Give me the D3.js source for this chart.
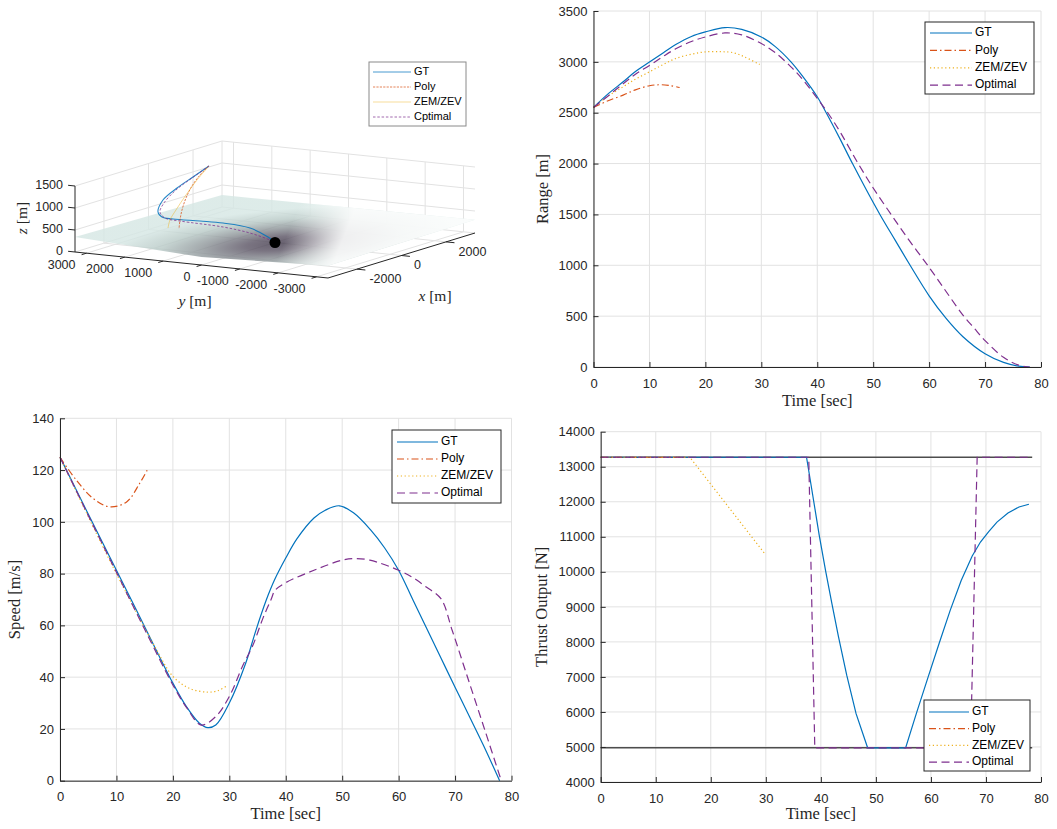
<!DOCTYPE html>
<html><head><meta charset="utf-8">
<script src="https://cdn.jsdelivr.net/npm/d3@7"></script>
<style>body{margin:0;background:#fff}svg{display:block}</style>
</head><body>
<svg id="c" width="1057" height="829"></svg>
<script>
// ---------------- DATA ----------------
const seriesNames = ["GT", "Poly", "ZEM/ZEV", "Optimal"];
const legend3DNames = ["GT", "Poly", "ZEM/ZEV", "Cptimal"];
const timeTicks = [0, 10, 20, 30, 40, 50, 60, 70, 80];
const rangeTicks = [0, 500, 1000, 1500, 2000, 2500, 3000, 3500];
const speedTicks = [0, 20, 40, 60, 80, 100, 120, 140];
const thrustTicks = [4000, 5000, 6000, 7000, 8000, 9000, 10000, 11000, 12000, 13000, 14000];
const xTicks3D = [-2000, 0, 2000];
const yTicks3D = [3000, 2000, 1000, 0, -1000, -2000, -3000];
const zTicks3D = [0, 500, 1000, 1500];

// Range [m] vs time [s]
const rangeGT = [[0,2552],[2.5,2680],[5.3,2804],[7.5,2905],[10,2998],[12.5,3090],[14.7,3170],[17.5,3250],[20,3294],[23.5,3337],[26.5,3320],[30,3245],[32.5,3150],[35.3,3000],[37.5,2850],[40,2657],[41.6,2500],[44,2250],[46.3,2000],[48.7,1750],[51.2,1500],[54,1240],[56.6,1000],[60,700],[63,480],[66,300],[70,130],[73.3,45],[76,8],[78,0]];
const rangePoly = [[0,2552],[2.5,2615],[5.3,2673],[7.5,2725],[10,2765],[11.8,2775],[13.5,2768],[15.4,2748]];
const rangeZEM = [[0,2552],[2.5,2660],[5.3,2755],[7.5,2830],[10,2902],[12.5,2975],[14.7,3033],[17.5,3075],[20,3098],[22.9,3100],[25,3090],[27,3049],[29.7,2974]];
const rangeOpt = [[0,2552],[2.5,2660],[5.3,2785],[7.5,2878],[10,2965],[12.5,3055],[14.7,3128],[17.5,3200],[20,3245],[23.5,3284],[26.5,3265],[30,3180],[32.5,3090],[35.3,2951],[37.5,2820],[40,2641],[42,2490],[44.1,2310],[47.1,2020],[50,1760],[53.2,1500],[56.5,1240],[60,980],[63,745],[65.9,520],[68,385],[70,260],[73.3,95],[76,18],[78,0]];

// Speed [m/s] vs time [s]
const speedGT = [[0,125],[5,103],[10,81.3],[15,59.5],[20,37.7],[22.4,28.6],[24.7,22.2],[26.2,20.5],[27.6,21.5],[30,30],[32.9,45.4],[34.7,58],[36.5,69.5],[38,77.5],[40,86],[42,93.5],[45,101.5],[47,104.5],[49.5,106.2],[52,103.5],[55,97],[57.5,90],[60,81.3],[62.5,70],[65,58.7],[67.5,47.4],[70,36.1],[72.5,25],[75,13.8],[77.9,0]];
const speedPoly = [[0,124.9],[2.9,116.1],[5.9,109],[8.8,105.8],[11.8,107.7],[14.1,114.8],[15.6,120.6]];
const speedZEM = [[0,125],[5,102],[10,80],[15,59],[17.1,50.6],[20,40.3],[22.9,35.7],[26.2,34.2],[28,34.8],[29.4,36.4]];
const speedOpt = [[0,125],[5,102.5],[10,80.5],[15,58.5],[20,37],[22.5,28],[25,21.5],[27.6,24.8],[30,32.5],[32.5,45],[34.1,51.9],[36,63],[37.4,70],[38.1,73.5],[40,76.5],[45,81.3],[50,85.2],[52.1,85.8],[54.9,85.2],[60,81.3],[62.5,78.5],[64.9,74.8],[67.5,70.3],[69.5,58],[72.4,38.7],[75.3,19.4],[78.1,0.6]];

// Thrust output [N] vs time [s]
const thrustLimits = [13270, 4976];
const thrustLimitSpan = [0, 78.4];
const thrustGT = [[0,13270],[37.4,13270],[38.2,12500],[39.7,11050],[40.9,10000],[42,9100],[43.2,8150],[44.7,7050],[46.4,5950],[48.5,4976],[55.4,4976],[57.4,5980],[59.5,7000],[61.5,7960],[63.5,8900],[65.5,9750],[67.5,10450],[69,10850],[70.5,11150],[72,11420],[74,11680],[76,11850],[77.8,11930]];
const thrustPoly = [[0,13270],[15.5,13270]];
const thrustZEM = [[0,13270],[16.2,13270],[29.85,10509]];
const thrustOpt = [[0,13270],[37.8,13270],[38.9,4976],[67.2,4976],[68.4,13270],[78,13270]];

// 3D trajectories [x, y, z] in metres
const traj3DGT = [[507,2016,1480],[-14,2131,1300],[-436,2303,1100],[-946,2373,900],[-1353,2266,700],[-1374,2150,600],[-1085,2031,520],[-517,1656,420],[-93,1303,340],[245,795,220],[86,232,90],[0,0,0]];
const traj3DPoly = [[507,2016,1480],[43,1981,1350],[-530,1857,1200],[-1092,1687,1030],[-1587,1504,850],[-1742,1466,650],[-1775,1473,450]];
const traj3DZEM = [[507,2016,1480],[-57,2002,1250],[-620,1962,1000],[-1315,1819,780],[-1712,1745,620],[-2031,1611,500]];
const traj3DOpt = [[507,2016,1480],[-135,2087,1300],[-667,2195,1100],[-1264,2162,900],[-1331,2227,700],[-1450,2027,600],[-1226,1766,520],[-719,939,380],[-403,418,240],[-221,2,90],[0,0,0]];
const target3D = [0, 0, 0];
const terrainOutline = [[-3300,3300,340],[3300,3300,270],[3300,-3300,300],[-3300,-3300,280],[-3300,0,180]];

// ---------------- STYLE ----------------
const colors = ["#0072BD", "#D95319", "#EDB120", "#7E2F8E"];
const dashes = [null, "7,3,1.5,3", "1.2,2.6", "8,4.5"];
const dashes3D = [null, "2.2,1.2", null, "2.5,1.8"];
const gridColor = "#e2e2e2";
const axisColor = "#262626";
const sans = "'Liberation Sans', Arial, Helvetica, sans-serif";
const serif = "'Liberation Serif', 'Times New Roman', serif";

const svg = d3.select("#c");

function drawPanel(cfg) {
  const x = d3.scaleLinear().domain([0, 80]).range([cfg.x0, cfg.x1]);
  const y = d3.scaleLinear().domain(cfg.yDomain).range([cfg.yb, cfg.yt]);
  const g = svg.append("g");
  g.append("g").selectAll("line").data(timeTicks).join("line")
    .attr("x1", d => x(d)).attr("x2", d => x(d))
    .attr("y1", cfg.yb).attr("y2", cfg.yt)
    .attr("stroke", gridColor).attr("stroke-width", 1);
  g.append("g").selectAll("line").data(cfg.yTicks).join("line")
    .attr("x1", cfg.x0).attr("x2", cfg.x1)
    .attr("y1", d => y(d)).attr("y2", d => y(d))
    .attr("stroke", gridColor).attr("stroke-width", 1);
  if (cfg.limits) {
    g.append("g").selectAll("line").data(cfg.limits).join("line")
      .attr("x1", x(cfg.limitSpan[0])).attr("x2", x(cfg.limitSpan[1]))
      .attr("y1", d => y(d)).attr("y2", d => y(d))
      .attr("stroke", "#4d4d4d").attr("stroke-width", 1.6);
  }
  cfg.series.forEach((s, i) => {
    const curve = cfg.curves ? cfg.curves[i] : d3.curveCatmullRom.alpha(0.5);
    const line = d3.line().x(d => x(d[0])).y(d => y(d[1])).curve(curve);
    g.append("path").datum(s).attr("d", line)
      .attr("fill", "none").attr("stroke", colors[i]).attr("stroke-width", 1.2)
      .attr("stroke-dasharray", dashes[i]);
  });
  const xa = g.append("g").attr("transform", `translate(0,${cfg.yb})`)
    .call(d3.axisBottom(x).tickValues(timeTicks).tickSize(-5).tickSizeOuter(0).tickPadding(11.5));
  const ya = g.append("g").attr("transform", `translate(${cfg.x0},0)`)
    .call(d3.axisLeft(y).tickValues(cfg.yTicks).tickSize(-5).tickSizeOuter(0).tickPadding(6).tickFormat(d3.format("d")));
  [xa, ya].forEach(a => {
    a.selectAll("path,line").attr("stroke", axisColor).attr("stroke-width", 1);
    a.selectAll("text").attr("fill", axisColor).style("font-family", sans).style("font-size", "13px");
  });
  g.append("text").attr("x", (cfg.x0 + cfg.x1) / 2).attr("y", cfg.xlabY)
    .attr("text-anchor", "middle").attr("dominant-baseline", "middle")
    .style("font-family", serif).style("font-size", "16.5px").attr("fill", axisColor).text("Time [sec]");
  g.append("text").attr("transform", `translate(${cfg.ylabX},${(cfg.yb + cfg.yt) / 2}) rotate(-90)`)
    .attr("text-anchor", "middle").attr("dominant-baseline", "middle")
    .style("font-family", serif).style("font-size", "16.5px").attr("fill", axisColor).text(cfg.ylabel);
  const L = cfg.legend;
  const lg = g.append("g");
  lg.append("rect").attr("x", L.x).attr("y", L.y).attr("width", L.w).attr("height", L.h)
    .attr("fill", "#fff").attr("stroke", axisColor).attr("stroke-width", 1);
  seriesNames.forEach((n, i) => {
    const yy = L.y + L.first + i * L.step;
    lg.append("line").attr("x1", L.x + 5).attr("x2", L.x + 5 + L.len).attr("y1", yy).attr("y2", yy)
      .attr("stroke", colors[i]).attr("stroke-width", 1.2).attr("stroke-dasharray", dashes[i]);
    lg.append("text").attr("x", L.x + 8 + L.len).attr("y", yy).attr("dominant-baseline", "middle")
      .style("font-family", sans).style("font-size", "12px").attr("fill", "#000").text(n);
  });
}

drawPanel({x0: 593.5, x1: 1041, yb: 367, yt: 11, yDomain: [0, 3500], yTicks: rangeTicks,
  series: [rangeGT, rangePoly, rangeZEM, rangeOpt], ylabel: "Range [m]", xlabY: 402, ylabX: 544,
  legend: {x: 925, y: 22, w: 109, h: 72, first: 11, step: 17.4, len: 42}});

drawPanel({x0: 60, x1: 511.5, yb: 780.7, yt: 418.3, yDomain: [0, 140], yTicks: speedTicks,
  series: [speedGT, speedPoly, speedZEM, speedOpt], ylabel: "Speed [m/s]", xlabY: 815, ylabX: 16,
  legend: {x: 392, y: 430, w: 109, h: 73, first: 12, step: 17, len: 41}});

drawPanel({x0: 600.7, x1: 1041, yb: 782, yt: 431.7, yDomain: [4000, 14000], yTicks: thrustTicks,
  series: [thrustGT, thrustPoly, thrustZEM, thrustOpt],
  curves: [d3.curveLinear, d3.curveLinear, d3.curveLinear, d3.curveLinear],
  limits: thrustLimits, limitSpan: thrustLimitSpan,
  ylabel: "Thrust Output [N]", xlabY: 815, ylabX: 543,
  legend: {x: 924, y: 700, w: 106, h: 71, first: 12, step: 16.7, len: 40}});

// ---------------- 3D PANEL ----------------
const sY = d3.scaleLinear().domain([3300, -3300]).range([0, 1]);
const sX = d3.scaleLinear().domain([-3300, 3300]).range([0, 1]);
const sZ = d3.scaleLinear().domain([0, 1500]).range([0, 1]);
const O3 = [75, 252], EY = [253, 26], EX = [147, -45], EZ = [0, -66];
function proj(p) {
  const u = sY(p[1]), v = sX(p[0]), w = sZ(p[2]);
  return [O3[0] + EY[0] * u + EX[0] * v + EZ[0] * w, O3[1] + EY[1] * u + EX[1] * v + EZ[1] * w];
}
const g3 = svg.append("g");
const xmin = -3300, xmax = 3300, ymin = -3300, ymax = 3300, zmax = 1500;
function seg(a, b, stroke, sw) {
  const A = proj(a), B = proj(b);
  g3.append("line").attr("x1", A[0]).attr("y1", A[1]).attr("x2", B[0]).attr("y2", B[1])
    .attr("stroke", stroke).attr("stroke-width", sw || 1);
}
yTicks3D.forEach(t => { seg([xmax, t, 0], [xmax, t, zmax], gridColor); seg([xmin, t, 0], [xmax, t, 0], gridColor); });
xTicks3D.forEach(t => { seg([t, ymax, 0], [t, ymax, zmax], gridColor); seg([t, ymin, 0], [t, ymax, 0], gridColor); });
zTicks3D.forEach(t => { seg([xmax, ymin, t], [xmax, ymax, t], gridColor); seg([xmin, ymax, t], [xmax, ymax, t], gridColor); });
seg([xmax, ymax, 0], [xmax, ymax, zmax], gridColor);

// terrain surface
const defs = svg.append("defs");
const tc = proj(target3D);
const rg = defs.append("radialGradient").attr("id", "terr").attr("gradientUnits", "userSpaceOnUse")
  .attr("cx", 0).attr("cy", 0).attr("r", 1)
  .attr("gradientTransform", `translate(${tc[0] + 6},${tc[1] + 1}) rotate(-5) scale(175,34)`);
[[0, "#463e4f"], [0.2, "#5d5666"], [0.45, "#8e9599"], [0.7, "#b9cac7"], [1, "#d6e7e4"]]
  .forEach(s => rg.append("stop").attr("offset", s[0]).attr("stop-color", s[1]));
const fadeG = defs.append("linearGradient").attr("id", "terrFade").attr("gradientUnits", "userSpaceOnUse")
  .attr("x1", 280).attr("y1", 252).attr("x2", 330).attr("y2", 272);
fadeG.append("stop").attr("offset", 0).attr("stop-color", "#fff").attr("stop-opacity", 0);
fadeG.append("stop").attr("offset", 1).attr("stop-color", "#fff").attr("stop-opacity", 0.85);
const terrPath = d3.line().curve(d3.curveLinearClosed)(terrainOutline.map(proj));
g3.append("path").attr("d", terrPath).attr("fill", "url(#terr)").attr("opacity", 0.82);
g3.append("path").attr("d", terrPath).attr("fill", "url(#terrFade)");

seg([xmin, ymax, 0], [xmin, ymax, zmax], axisColor, 1);
seg([xmin, ymax, 0], [xmin, ymin, 0], axisColor, 1);
seg([xmin, ymin, 0], [xmax, ymin, 0], axisColor, 1);
zTicks3D.forEach(t => seg([xmin, ymax, t], [xmin, ymax + 180, t], axisColor, 1));
yTicks3D.forEach(t => seg([xmin, t, 0], [xmin - 220, t, 0], axisColor, 1));
xTicks3D.forEach(t => seg([t, ymin, 0], [t, ymin - 220, 0], axisColor, 1));

const tickText = (x, y, anchor, s) => g3.append("text").attr("x", x).attr("y", y)
  .attr("text-anchor", anchor).attr("dominant-baseline", "middle")
  .style("font-family", sans).style("font-size", "12.5px").attr("fill", axisColor).text(s);
zTicks3D.forEach(t => { const p = proj([xmin, ymax, t]); tickText(p[0] - 12, p[1], "end", t); });
yTicks3D.forEach(t => { const p = proj([xmin, t, 0]); tickText(p[0] - 11, p[1] + 13, "end", t); });
xTicks3D.forEach(t => { const p = proj([t, ymin, 0]); tickText(p[0] + 12.5, p[1] + 10.5, "start", t); });

function label3D(x, y, v, rot) {
  const t = g3.append("text").attr("text-anchor", "middle").attr("dominant-baseline", "middle")
    .attr("transform", `translate(${x},${y})` + (rot ? " rotate(-90)" : ""))
    .style("font-family", serif).style("font-size", "15.5px").attr("fill", axisColor);
  t.append("tspan").style("font-style", "italic").text(v);
  t.append("tspan").text(" [m]");
}
label3D(23, 218, "z", true);
label3D(195, 302, "y", false);
label3D(435, 297, "x", false);

const l3 = d3.line().curve(d3.curveCatmullRom.alpha(0.5));
[traj3DGT, traj3DPoly, traj3DZEM, traj3DOpt].forEach((tr, i) => {
  g3.append("path").attr("d", l3(tr.map(proj))).attr("fill", "none")
    .attr("stroke", colors[i]).attr("stroke-width", i === 0 ? 1.1 : 0.9)
    .attr("stroke-opacity", i === 2 ? 0.55 : 0.85)
    .attr("stroke-dasharray", dashes3D[i]);
});
g3.append("circle").attr("cx", tc[0]).attr("cy", tc[1]).attr("r", 5.5).attr("fill", "#000");

const lg3 = g3.append("g");
lg3.append("rect").attr("x", 369).attr("y", 62).attr("width", 97).attr("height", 64)
  .attr("fill", "#fff").attr("stroke", "#8a8a8a").attr("stroke-width", 1);
legend3DNames.forEach((n, i) => {
  const yy = 72 + i * 15;
  lg3.append("line").attr("x1", 373).attr("x2", 411).attr("y1", yy).attr("y2", yy)
    .attr("stroke", colors[i]).attr("stroke-width", 0.9).attr("stroke-opacity", i === 2 ? 0.5 : 0.8)
    .attr("stroke-dasharray", dashes3D[i]);
  lg3.append("text").attr("x", 414).attr("y", yy).attr("dominant-baseline", "middle")
    .style("font-family", sans).style("font-size", "11px").attr("fill", "#000").text(n);
});
</script>
</body></html>
